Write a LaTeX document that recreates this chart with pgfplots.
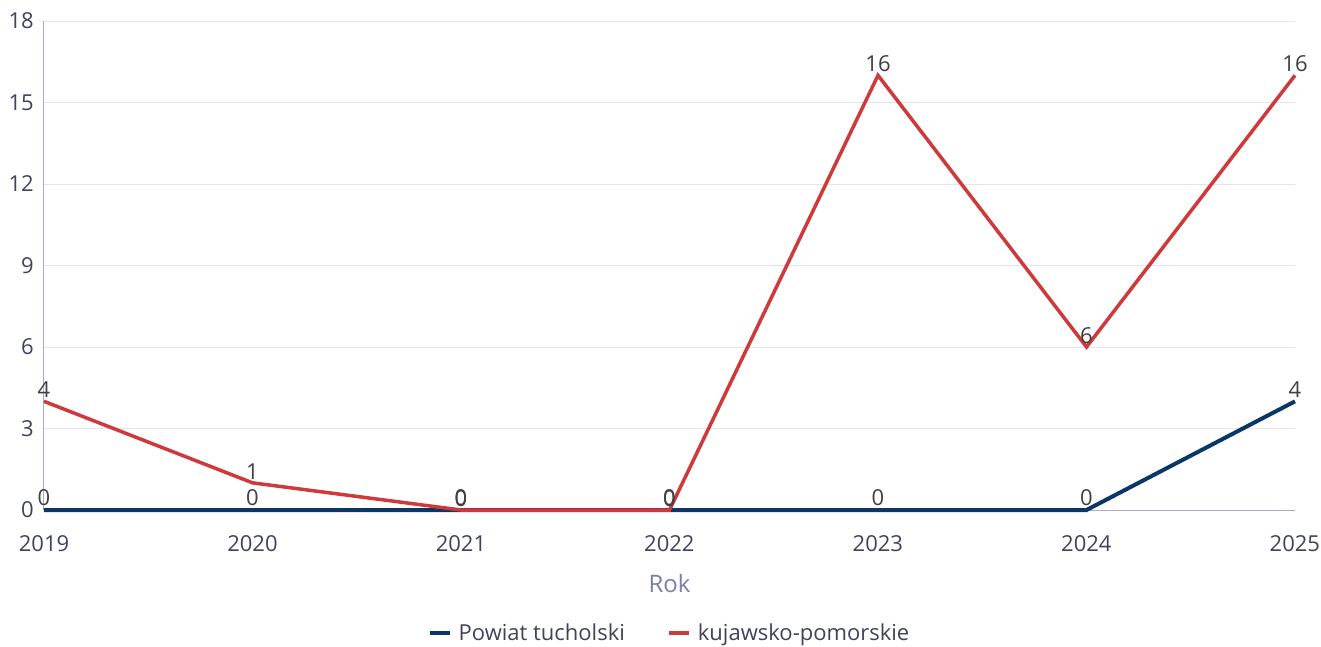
\documentclass[border=0pt]{standalone}
\usepackage{pgfplots}
\pgfplotsset{compat=1.18}
\usepackage{fontspec}
\setmainfont{Open Sans}
\definecolor{navy}{HTML}{0A3766}
\definecolor{redl}{HTML}{D0393B}
\definecolor{ticktxt}{HTML}{40425E}
\definecolor{labtxt}{HTML}{7B7FA8}
\definecolor{valtxt}{HTML}{404040}
\definecolor{gridc}{HTML}{E4E4EE}
\definecolor{axisc}{HTML}{A8A9CC}
\pgfplotsset{/pgf/number format/assume math mode=true}
\begin{document}
\begin{tikzpicture}
\begin{axis}[
  at={(0pt,0pt)}, anchor=south west,
  scale only axis, width=1251pt, height=489pt,
  xmin=2019, xmax=2025, ymin=0, ymax=18,
  xtick={2019,...,2025}, ytick={0,3,...,18},
  xticklabels={2019,2020,2021,2022,2023,2024,2025},
  axis x line*=bottom, axis y line*=left,
  axis line style={-, draw=axisc, line width=1pt},
  major tick length=0pt,
  ymajorgrids, grid style={draw=gridc, line width=0.8pt},
  font=\fontsize{22}{26}\selectfont,
  ticklabel style={font=\fontsize{22}{26}\selectfont, text=ticktxt},
  yticklabel style={inner sep=0pt, xshift=-10pt, anchor=east},
  xticklabel style={inner sep=0pt, yshift=-25pt, anchor=north},
  xlabel={Rok},
  xlabel style={at={(axis description cs:0.5,0)}, anchor=center, yshift=-73pt, text=labtxt, font=\fontsize{24}{28}\selectfont},
  clip=false,
  nodes near coords,
  every node near coord/.append style={font=\fontsize{22}{26}\selectfont, text=valtxt, inner sep=0pt, anchor=south, yshift=2pt},
  legend columns=2,
  legend style={at={(axis description cs:0.5,0)}, anchor=center, yshift=-123pt, draw=none, fill=none,
    font=\fontsize{22}{26}\selectfont, text=ticktxt,
    /tikz/every even column/.append style={column sep=40pt}},
  legend cell align=left,
  legend image code/.code={\draw[#1, line width=4pt] (0pt,0pt) -- (20pt,0pt);},
]
\addplot[navy, line width=4pt, mark=none] coordinates {(2019,0) (2020,0) (2021,0) (2022,0) (2023,0) (2024,0) (2025,4)};
\addlegendentry{\hspace{5pt}Powiat tucholski}
\addplot[redl, line width=3.5pt, mark=none] coordinates {(2019,4) (2020,1) (2021,0) (2022,0) (2023,16) (2024,6) (2025,16)};
\addlegendentry{\hspace{5pt}kujawsko-pomorskie}
\end{axis}
\pgfresetboundingbox
\useasboundingbox (-44pt,-137pt) rectangle (1277pt,510pt);
\end{tikzpicture}
\end{document}
